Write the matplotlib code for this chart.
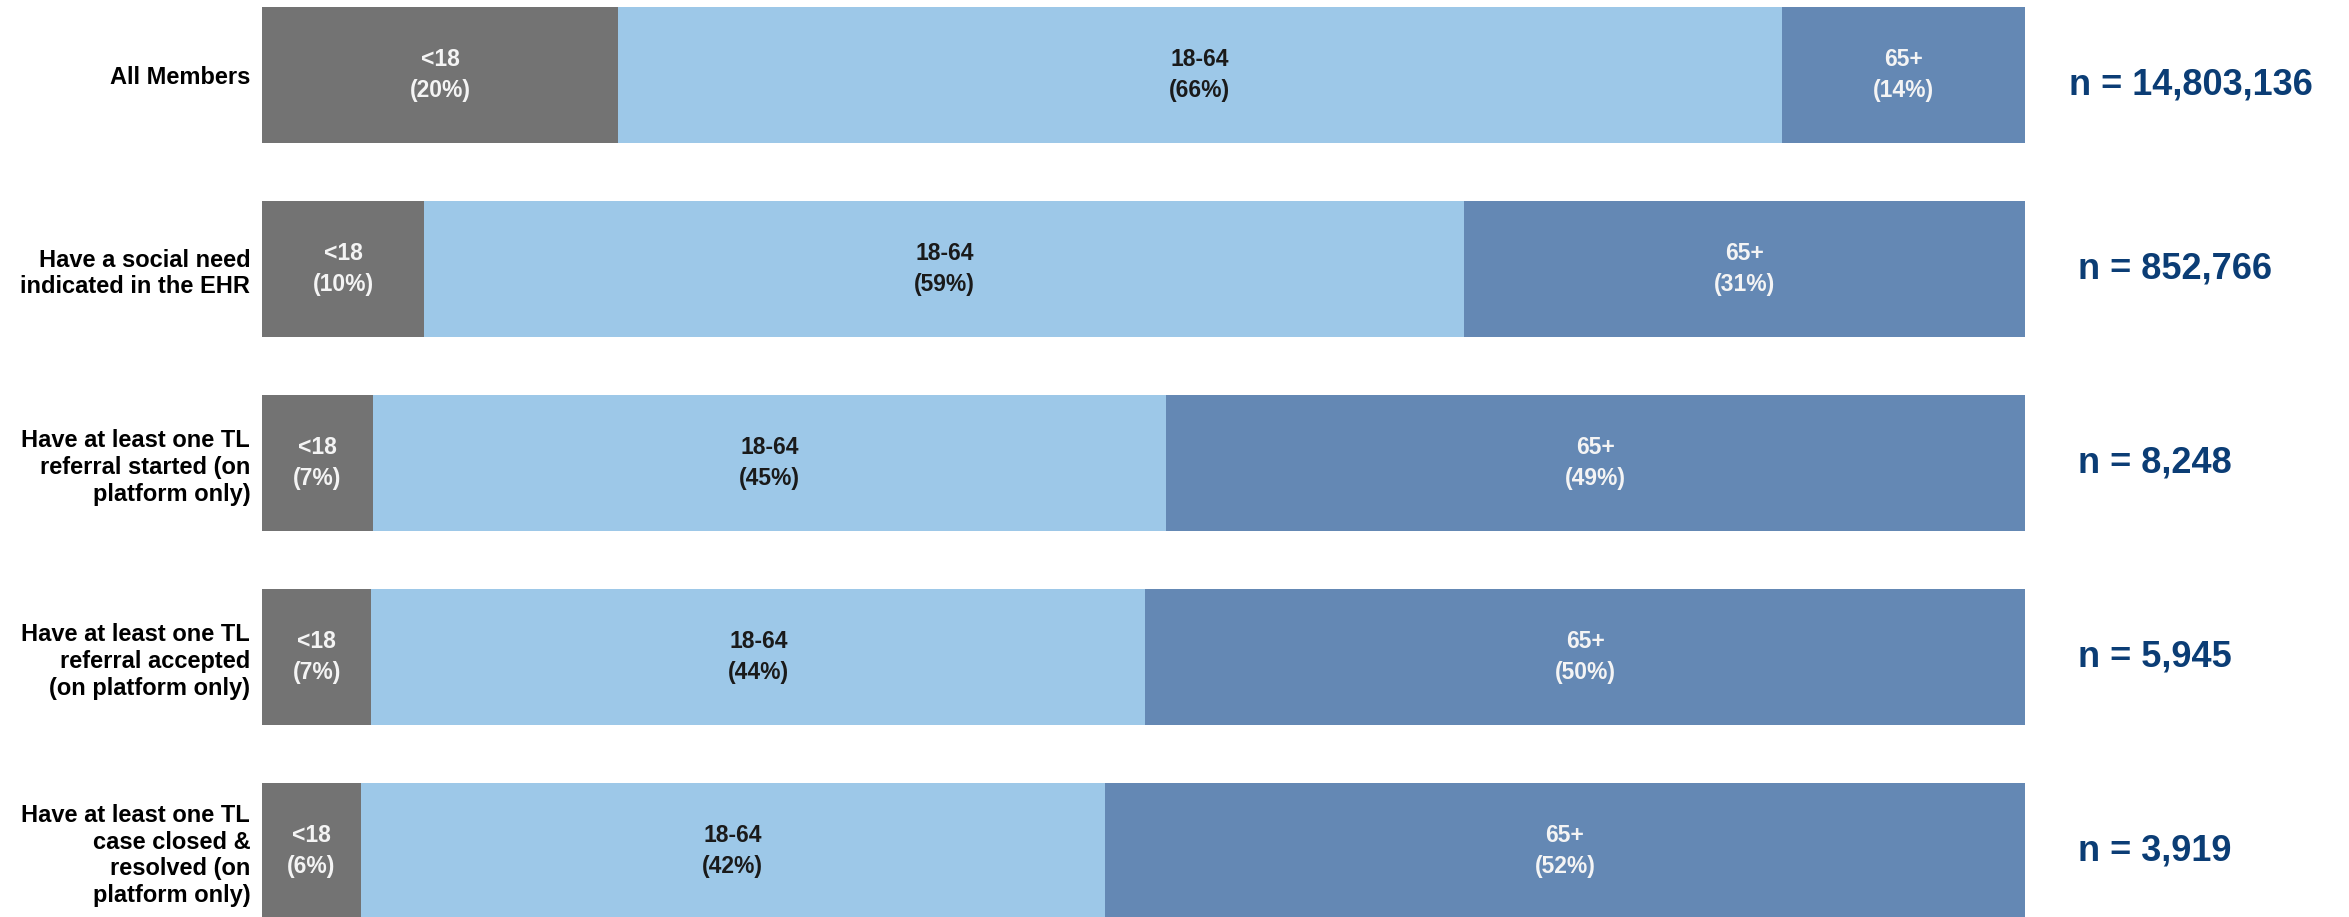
import numpy as np
import matplotlib.pyplot as plt

plt.rcParams['font.family'] = ['Liberation Sans', 'DejaVu Sans']

# data
groups = ["All Members",
          "Have a social need\nindicated in the EHR",
          "Have at least one TL\nreferral started (on\nplatform only)",
          "Have at least one TL\nreferral accepted\n(on platform only)",
          "Have at least one TL\ncase closed &\nresolved (on\nplatform only)"]
age_bands = ["<18", "18-64", "65+"]
# bar widths (share of members, %)
under18 = [20.2, 9.2, 6.3, 6.2, 5.6]
adult = [66.0, 59.0, 45.0, 43.9, 42.2]
senior = [13.8, 31.8, 48.7, 49.9, 52.2]
# percentages printed in the segments
under18_lbl = [20, 10, 7, 7, 6]
adult_lbl = [66, 59, 45, 44, 42]
senior_lbl = [14, 31, 49, 50, 52]
n_members = ["14,803,136", "852,766", "8,248", "5,945", "3,919"]

colors = ["#737373", "#9DC8E8", "#6488B4"]
text_colors = ["#F4F4F4", "#1A1A1A", "#F4F4F4"]

W, H = 2349, 917
fig = plt.figure(figsize=(W / 100, H / 100), dpi=100)
ax = fig.add_axes([262 / W, 0, 1763 / W, 1])

y = np.arange(len(groups))
shares = [under18, adult, senior]
labels = [under18_lbl, adult_lbl, senior_lbl]
left = np.zeros(len(groups))
for k in range(3):
    vals = np.array(shares[k])
    ax.barh(y, vals, left=left, height=0.70, color=colors[k], linewidth=0)
    for i in range(len(groups)):
        ax.text(left[i] + vals[i] / 2, y[i], f"{age_bands[k]}\n({labels[k][i]}%)",
                ha="center", va="center", fontsize=16.5, fontweight="bold",
                color=text_colors[k], linespacing=1.45)
    left += vals

for i in range(len(groups)):
    ax.text(103.0 - (0.5 if i == 0 else 0), y[i] + (0.05 if i == 0 else 0),
            f"n = {n_members[i]}", ha="left", va="center", fontsize=26,
            fontweight="bold", color="#0B3D75", clip_on=False)

ax.set_xlim(0, 100)
ax.set_ylim(-0.3866 + H / 194, -0.3866)
ax.set_yticks(y)
ax.set_yticklabels(groups, fontsize=17, fontweight="bold", linespacing=1.22)
ax.tick_params(axis="y", length=0, pad=8.5)
ax.set_xticks([])
for s in ax.spines.values():
    s.set_visible(False)

fig.savefig("out.png", dpi=100)
